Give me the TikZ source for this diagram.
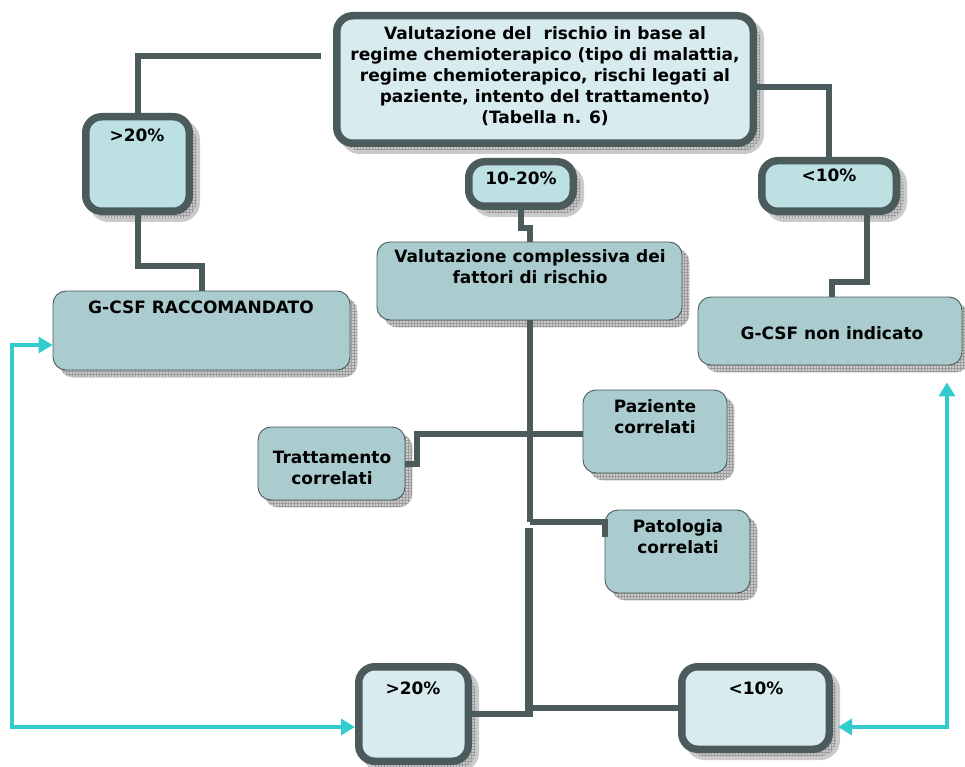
\documentclass[tikz,border=0pt]{standalone}
\usepackage{fontspec}
\setmainfont{DejaVu Sans}
\usetikzlibrary{arrows.meta,patterns}
\definecolor{edge}{HTML}{4B5A5A}
\definecolor{paleblue}{HTML}{D8ECEF}
\definecolor{midblue}{HTML}{BDE0E3}
\definecolor{tealbox}{HTML}{AACCCE}
\definecolor{linkcyan}{HTML}{33CCCC}
\definecolor{shadowfill}{HTML}{CACACA}
\definecolor{shadowgrid}{HTML}{9C9C9C}
\begin{document}
\begin{tikzpicture}[x=1pt,y=-1pt,
  shadowed/.style={
    preaction={fill=shadowfill, draw=shadowfill, line width=#1,
      transform canvas={shift={(7pt,-7pt)}}},
    preaction={pattern=grid, pattern color=shadowgrid,
      transform canvas={shift={(7pt,-7pt)}}}},
  heavybox/.style={rectangle, rounded corners=16pt, draw=edge,
    line width=7.5pt, inner sep=0pt, shadowed=7.5pt},
  lightbox/.style={rectangle, rounded corners=13pt, draw=edge,
    line width=0.9pt, fill=tealbox, inner sep=0pt, shadowed=0.9pt},
  boxtext/.style={align=center, inner sep=0pt,
    font=\bfseries\fontsize{17}{21}\selectfont},
  conn/.style={draw=edge, line width=6pt},
  trunk/.style={draw=edge, line width=8pt},
  cyanlink/.style={draw=linkcyan, line width=4.5pt,
    {Triangle[length=14pt,width=16pt]}-{Triangle[length=14pt,width=16pt]}},
]
\useasboundingbox (0,0) rectangle (965,767);

% ---- boxes with heavy frame ----
\node[heavybox, fill=paleblue, minimum width=416.5pt, minimum height=127.5pt] (risk) at (545,79.5) {};
\node[heavybox, fill=midblue, minimum width=103.5pt, minimum height=94.5pt] (hiA) at (137.5,164) {};
\node[heavybox, fill=midblue, minimum width=104.5pt, minimum height=44.5pt] (mid) at (521,184) {};
\node[heavybox, fill=midblue, minimum width=134.5pt, minimum height=50.5pt] (loA) at (829,186) {};
\node[heavybox, fill=paleblue, minimum width=109.5pt, minimum height=94.5pt] (hiB) at (413.5,714) {};
\node[heavybox, fill=paleblue, minimum width=147.5pt, minimum height=82.5pt] (loB) at (755.5,708) {};

% ---- boxes with thin frame ----
\node[lightbox, minimum width=305pt, minimum height=78pt] (valc) at (529.5,281) {};
\node[lightbox, minimum width=297pt, minimum height=79pt] (racc) at (201.5,330.5) {};
\node[lightbox, minimum width=264pt, minimum height=68pt] (noind) at (830,331) {};
\node[lightbox, minimum width=147pt, minimum height=73pt] (tratt) at (331.5,463.5) {};
\node[lightbox, minimum width=144pt, minimum height=83pt] (paz) at (655,431.5) {};
\node[lightbox, minimum width=145pt, minimum height=83pt] (pat) at (677.5,551.5) {};

% ---- texts ----
\node[boxtext] (risk-t) at (545,76) {Valutazione del~ rischio in base al\\regime chemioterapico (tipo di malattia,\\regime chemioterapico, rischi legati al\\paziente, intento del trattamento)\\(Tabella n. 6)};
\node[boxtext] (hiA-t) at (137,135) {>20\%};
\node[boxtext] (mid-t) at (521,178) {10-20\%};
\node[boxtext] (loA-t) at (829,175) {<10\%};
\node[boxtext] (hiB-t) at (413,688) {>20\%};
\node[boxtext] (loB-t) at (756,688) {<10\%};
\node[boxtext] (valc-t) at (530,267) {Valutazione complessiva dei\\fattori di rischio};
\node[boxtext] (racc-t) at (201,307) {G-CSF RACCOMANDATO};
\node[boxtext] (noind-t) at (832,333) {G-CSF non indicato};
\node[boxtext] (tratt-t) at (332,468) {Trattamento\\correlati};
\node[boxtext] (paz-t) at (655,417) {Paziente\\correlati};
\node[boxtext] (pat-t) at (678,537) {Patologia\\correlati};

% ---- connectors ----
\draw[conn, shorten <=12pt] ([yshift=23.5pt]risk.west) -| (hiA.north);
\draw[conn] (hiA.south) |- ([yshift=25pt]racc.north) -- (racc.north);
\draw[conn] ([yshift=-7.5pt]risk.east) -| (loA.north);
\draw[conn] ([xshift=38pt]loA.south) |- ([xshift=2pt,yshift=15pt]noind.north) -- ([xshift=2pt]noind.north);
\draw[conn] (mid.south) |- ([yshift=14pt]valc.north) -- (valc.north);

\coordinate (forkA) at (529.5,434);
\coordinate (forkB) at (529.5,522);
\coordinate (forkC) at (529,528);
\coordinate (forkD) at (529,714);
\draw[conn] (valc.south) -- (forkB);
\draw[conn] (forkA) -| ([xshift=12pt]tratt.east) -- (tratt.east);
\draw[conn] (forkA) -- (forkA -| paz.west);
\draw[conn] (forkB) -| ([yshift=14.5pt]pat.west);
\draw[trunk] (forkC) -- (forkD);
\draw[conn] ([xshift=4pt]forkD) -- (hiB.east);
\draw[conn] (forkD |- loB.west) -- (loB.west);

% ---- cyan return links ----
\coordinate (leftrail) at (12,500);
\draw[cyanlink] ([yshift=-13pt]hiB.west) -| (leftrail) |- ([yshift=-14.5pt]racc.west);
\draw[cyanlink] ([xshift=5pt,yshift=-19pt]loB.east) -| ([xshift=117pt,yshift=-17pt]noind.south);
\end{tikzpicture}
\end{document}
